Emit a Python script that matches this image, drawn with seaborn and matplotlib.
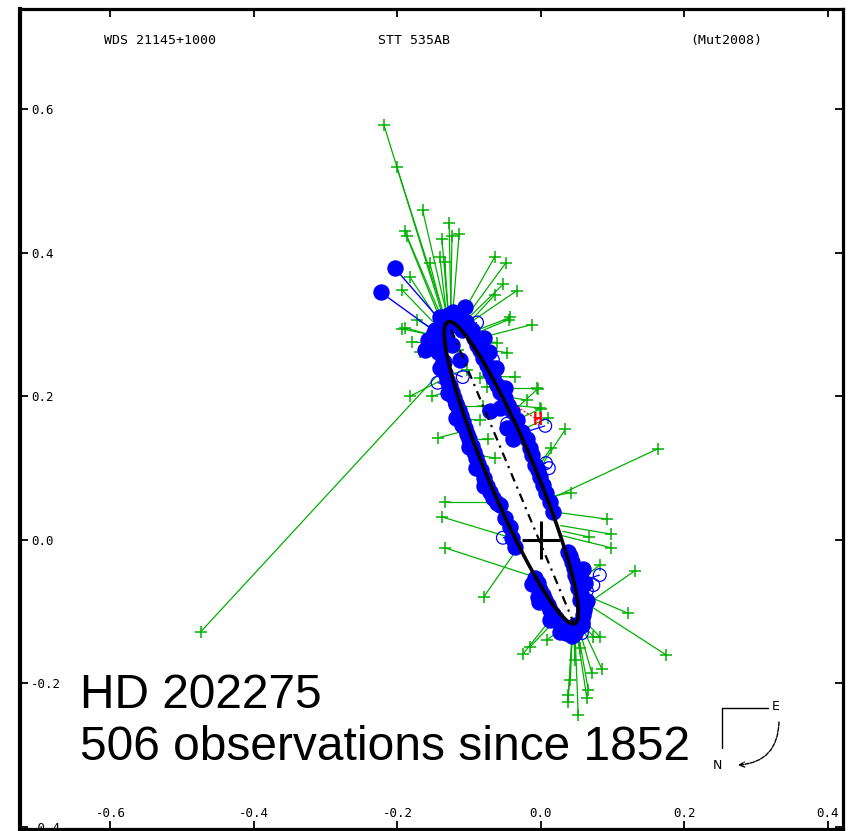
import numpy as np
import matplotlib
matplotlib.use("Agg")
import matplotlib.pyplot as plt
import seaborn as sns

# ---------------- text ----------------
header_left = "WDS 21145+1000"
header_mid = "STT 535AB"
header_right = "(Mut2008)"
star_name = "HD 202275"
obs_summary = "506 observations since 1852"

x_ticks = [-0.6, -0.4, -0.2, 0.0, 0.2, 0.4]
x_tick_labels = ["-0.6", "-0.4", "-0.2", "0.0", "0.2", "0.4"]
y_ticks = [-0.4, -0.2, 0.0, 0.2, 0.4, 0.6]
y_tick_labels = ["-0.4", "-0.2", "0.0", "0.2", "0.4", "0.6"]
x_limits = (-0.726, 0.421)
y_limits = (-0.403, 0.740)

# ---------------- orbit (apparent ellipse) ----------------
orbit_center_x = -0.0413
orbit_center_y = 0.0937
orbit_semi_major = 0.228
orbit_semi_minor = 0.033
orbit_angle_deg = -67.2

node_x = [-0.125, 0.045]
node_y = [0.293, -0.114]
primary_x = [0.0]
primary_y = [0.0]

# ---------------- micrometer observations (green) ----------------
green_obs_x = [-0.219, -0.201, -0.165, -0.128, -0.190, -0.187, -0.138, -0.124, -0.114, -0.064,
               -0.049, -0.141, -0.134, -0.155, -0.183, -0.194, -0.034, -0.053, -0.064, -0.045,
               -0.013, -0.173, -0.190, -0.043,
               -0.047, -0.006, -0.001, -0.036, -0.020, -0.061, -0.004, 0.010, 0.000, -0.116,
               -0.103, -0.085, -0.075, -0.081, -0.085, -0.074, -0.064,
               -0.193, -0.179, -0.169, -0.152, -0.183, -0.474, -0.144, -0.134, -0.138, -0.134,
               -0.080,
               -0.025, -0.015, 0.008, 0.038, 0.038, 0.052, 0.064, 0.066, 0.041, 0.071,
               0.085, 0.082, 0.073, 0.047, 0.054,
               0.174, 0.121, 0.131, 0.082, 0.092, 0.098, 0.098, 0.067, 0.042, 0.163,
               0.034, 0.014]
green_obs_y = [0.579, 0.520, 0.460, 0.442, 0.430, 0.424, 0.420, 0.423, 0.426, 0.395,
               0.386, 0.395, 0.388, 0.386, 0.367, 0.349, 0.347, 0.356, 0.342, 0.307,
               0.300, 0.307, 0.296, 0.310,
               0.261, 0.212, 0.184, 0.227, 0.195, 0.275, 0.211, 0.170, 0.183, 0.265,
               0.237, 0.226, 0.213, 0.186, 0.167, 0.140, 0.114,
               0.294, 0.276, 0.262, 0.200, 0.200, -0.128, 0.142, 0.053, 0.032, -0.011,
               -0.080,
               -0.159, -0.149, -0.140, -0.216, -0.226, -0.244, -0.220, -0.209, -0.195, -0.186,
               -0.180, -0.135, -0.135, -0.167, -0.151,
               -0.160, -0.102, -0.043, -0.035, 0.029, 0.008, -0.011, 0.004, 0.066, 0.127,
               0.154, 0.128]
green_fit_x = [-0.133, -0.130, -0.128, -0.125, -0.134, -0.132, -0.128, -0.126, -0.124, -0.118,
               -0.115, -0.130, -0.128, -0.132, -0.134, -0.135, -0.112, -0.115, -0.110, -0.100,
               -0.095, -0.135, -0.134, -0.103,
               -0.088, -0.060, -0.045, -0.068, -0.052, -0.095, -0.040, -0.030, -0.036, -0.131,
               -0.121, -0.072, -0.062, -0.109, -0.104, -0.094, -0.086,
               -0.135, -0.134, -0.132, -0.119, -0.124, -0.128, -0.099, -0.063, -0.042, -0.011,
               -0.034,
               0.018, 0.022, 0.035, 0.045, 0.044, 0.047, 0.048, 0.049, 0.044, 0.050,
               0.051, 0.052, 0.051, 0.046, 0.048,
               0.050, 0.050, 0.052, 0.047, 0.025, 0.027, 0.029, 0.030, 0.012, 0.015,
               -0.004, -0.006]
green_fit_y = [0.300, 0.298, 0.300, 0.302, 0.292, 0.295, 0.300, 0.300, 0.302, 0.300,
               0.296, 0.300, 0.300, 0.298, 0.292, 0.288, 0.294, 0.296, 0.292, 0.284,
               0.279, 0.286, 0.280, 0.287,
               0.267, 0.212, 0.188, 0.228, 0.200, 0.279, 0.178, 0.152, 0.166, 0.278,
               0.232, 0.234, 0.214, 0.186, 0.168, 0.140, 0.118,
               0.282, 0.272, 0.262, 0.210, 0.230, 0.247, 0.154, 0.053, 0.003, -0.051,
               -0.014,
               -0.105, -0.110, -0.119, -0.118, -0.118, -0.117, -0.116, -0.114, -0.118, -0.112,
               -0.108, -0.104, -0.108, -0.118, -0.116,
               -0.080, -0.072, -0.098, -0.062, 0.038, 0.020, 0.006, 0.012, 0.060, 0.058,
               0.096, 0.098]

# ---------------- speckle observations (blue filled) ----------------
blue_x = [-0.141, -0.130, -0.116, -0.105, -0.096, -0.148, -0.152, -0.144, -0.135, -0.133,
          -0.127, -0.121, -0.114, -0.109, -0.103, -0.096, -0.091, -0.084, -0.075, -0.067,
          -0.061, -0.043, -0.036, -0.008, -0.001, 0.006, 0.013, 0.021, 0.029, 0.041,
          0.052, 0.059, 0.054, 0.052, 0.047, 0.043, 0.038, 0.017, 0.007, -0.001,
          -0.008, -0.015, -0.027, -0.039, -0.047, -0.041, -0.057, -0.071, -0.050, -0.061,
          -0.071, -0.081, -0.089, -0.124, -0.113, -0.106, 0.027, 0.043,
          -0.137, -0.122, -0.112, -0.150, -0.140, 0.035, 0.048, 0.057, 0.060, 0.015,
          -0.004, -0.140, -0.130, -0.118,
          -0.146, -0.139, -0.131, -0.124, -0.119, -0.112, -0.106, -0.100, -0.093, -0.088,
          -0.080, -0.071,
          -0.093, -0.085, -0.075, -0.067, -0.057, -0.046, -0.033,
          -0.124, -0.110, -0.134, -0.158, -0.162,
          -0.004, 0.003, 0.010, 0.017, 0.025, 0.035, 0.047, 0.057, 0.060, 0.056,
          0.050, 0.046, 0.040,
          -0.004, 0.003, 0.013, -0.020, -0.013,
          -0.057, -0.050, -0.040,
          -0.137, -0.128, -0.118, -0.110, -0.100, -0.090, -0.080,
          -0.080, -0.072, -0.062, -0.050,
          -0.012, -0.002, 0.012, 0.062, 0.064, 0.058]
blue_y = [0.310, 0.314, 0.310, 0.304, 0.293, 0.293, 0.276, 0.262, 0.248, 0.232,
          0.215, 0.198, 0.181, 0.165, 0.148, 0.131, 0.114, 0.098, 0.075, 0.059,
          0.052, 0.018, -0.010, -0.053, -0.070, -0.084, -0.098, -0.109, -0.120, -0.126,
          -0.123, -0.105, -0.084, -0.067, -0.049, -0.031, -0.017, 0.039, 0.066, 0.087,
          0.105, 0.128, 0.151, 0.140, 0.156, 0.179, 0.184, 0.179, 0.198, 0.216,
          0.234, 0.254, 0.272, 0.272, 0.251, 0.324, -0.128, -0.134,
          0.300, 0.318, 0.296, 0.285, 0.270, -0.130, -0.118, -0.115, -0.095, -0.110,
          -0.080, 0.240, 0.205, 0.170,
          0.286, 0.269, 0.223, 0.206, 0.190, 0.173, 0.156, 0.140, 0.123, 0.106,
          0.086, 0.067,
          0.282, 0.264, 0.244, 0.226, 0.206, 0.188, 0.167,
          0.300, 0.293, 0.286, 0.279, 0.265,
          -0.060, -0.077, -0.091, -0.103, -0.114, -0.126, -0.130, -0.119, -0.098, -0.075,
          -0.056, -0.039, -0.022,
          0.098, 0.077, 0.053, 0.140, 0.119,
          0.049, 0.031, 0.003,
          0.250, 0.215, 0.190, 0.160, 0.130, 0.100, 0.075,
          0.282, 0.262, 0.240, 0.212,
          -0.062, -0.087, -0.112, -0.060, -0.085, -0.040]

blue_out_x = [-0.204, -0.223]
blue_out_y = [0.379, 0.345]
blue_out_fit_x = [-0.135, -0.140]
blue_out_fit_y = [0.300, 0.285]

# ---------------- other interferometric (blue open) ----------------
open_x = [-0.144, -0.109, -0.089, -0.067, -0.047, 0.006, 0.011, 0.007, -0.053, 0.082,
          0.073, 0.064, 0.056, 0.057]
open_y = [0.219, 0.227, 0.303, 0.251, 0.162, 0.159, 0.100, 0.107, 0.003, -0.049,
          -0.063, -0.071, -0.080, -0.130]
open_fit_x = [-0.117, -0.121, -0.110, -0.083, -0.036, -0.023, -0.008, -0.008, -0.036, 0.046,
              0.048, 0.049, 0.050, 0.048]
open_fit_y = [0.215, 0.232, 0.296, 0.252, 0.165, 0.150, 0.105, 0.105, 0.005, -0.060,
              -0.070, -0.078, -0.085, -0.116]

# ---------------- Hipparcos ----------------
hip_x = [-0.004]
hip_y = [0.167]
hip_fit_x = [-0.034]
hip_fit_y = [0.186]

# ---------------- style ----------------
GREEN = "#00b000"
BLUE = "#0000ff"
RED = "#ff0000"
MONO = ["DejaVu Sans Mono"]

sns.set_theme(style="white")
plt.rcParams["font.family"] = ["DejaVu Sans"]
plt.rcParams["text.color"] = "black"
plt.rcParams["xtick.color"] = "black"
plt.rcParams["ytick.color"] = "black"
plt.rcParams["axes.edgecolor"] = "black"

fig = plt.figure(figsize=(8.48, 8.31), dpi=100)
ax = fig.add_axes([20 / 848, 2 / 831, 823 / 848, 820 / 831])
ax.set_xlim(*x_limits)
ax.set_ylim(*y_limits)


def oc_lines(ox, oy, fx, fy, color, lw, ls="-", z=2):
    for a, b, c, d in zip(ox, oy, fx, fy):
        ax.plot([a, c], [b, d], color=color, lw=lw, ls=ls, zorder=z, solid_capstyle="butt")


# green O-C lines and points
oc_lines(green_obs_x, green_obs_y, green_fit_x, green_fit_y, GREEN, 0.9, z=2)
sns.scatterplot(x=green_obs_x, y=green_obs_y, marker="+", s=70, color=GREEN,
                linewidth=1.1, ax=ax, zorder=3, legend=False)

# blue filled
oc_lines(blue_out_x, blue_out_y, blue_out_fit_x, blue_out_fit_y, BLUE, 1.0, z=4)
sns.scatterplot(x=blue_x + blue_out_x, y=blue_y + blue_out_y, marker="o", s=140,
                color=BLUE, edgecolor=BLUE, linewidth=0, ax=ax, zorder=5, legend=False)

# blue open
oc_lines(open_x, open_y, open_fit_x, open_fit_y, BLUE, 0.9, z=5)
sns.scatterplot(x=open_x, y=open_y, marker="o", s=85, facecolors="none",
                edgecolor=BLUE, linewidth=0.9, ax=ax, zorder=6, legend=False)

# Hipparcos
oc_lines(hip_x, hip_y, hip_fit_x, hip_fit_y, RED, 0.9, ls=(0, (1.5, 1.5)), z=6)
for hx, hy in zip(hip_x, hip_y):
    ax.text(hx, hy, "H", color=RED, fontsize=12, fontweight="bold", ha="center",
            va="center", family=MONO, zorder=7)

# orbit
t = np.linspace(0, 2 * np.pi, 400)
ang = np.deg2rad(orbit_angle_deg)
ex = (orbit_center_x + orbit_semi_major * np.cos(t) * np.cos(ang)
      - orbit_semi_minor * np.sin(t) * np.sin(ang))
ey = (orbit_center_y + orbit_semi_major * np.cos(t) * np.sin(ang)
      + orbit_semi_minor * np.sin(t) * np.cos(ang))
sns.lineplot(x=ex, y=ey, sort=False, color="black", lw=2.6, ax=ax, zorder=8,
             estimator=None)
ax.plot(node_x, node_y, color="black", lw=1.6, ls=(0, (4, 2.5, 1, 2.5)), zorder=8)
ax.plot(primary_x, primary_y, marker="+", ms=28, mew=2.2, color="black", zorder=9,
        ls="none")

# axes decoration
for side, sp in ax.spines.items():
    sp.set_visible(True)
    sp.set_color("black")
    sp.set_linewidth(2.3)
ax.spines["left"].set_linewidth(3.0)

ax.set_xticks(x_ticks)
ax.set_xticklabels(x_tick_labels, family=MONO, fontsize=9, color="black")
ax.set_yticks(y_ticks)
ax.set_yticklabels(y_tick_labels, family=MONO, fontsize=9, ha="left", color="black")
ax.tick_params(axis="x", direction="in", length=6, width=1.3, top=True, bottom=True,
               pad=-16, colors="black")
ax.tick_params(axis="y", direction="in", length=6, width=1.3, left=True, right=True,
               pad=-8, colors="black")
ax.grid(False)

# header
ax.text(0.1025, 0.962, header_left, transform=ax.transAxes, family=MONO, fontsize=9.5,
        ha="left", va="center", color="black")
ax.text(0.435, 0.962, header_mid, transform=ax.transAxes, family=MONO, fontsize=9.5,
        ha="left", va="center", color="black")
ax.text(0.814, 0.962, header_right, transform=ax.transAxes, family=MONO, fontsize=9.5,
        ha="left", va="center", color="black")

# big caption
ax.text(0.0729, 0.1476, star_name, transform=ax.transAxes, family=["Liberation Sans"],
        fontsize=34.5, ha="left", va="baseline", zorder=10, color="black")
ax.text(0.0729, 0.0841, obs_summary, transform=ax.transAxes, family=["Liberation Sans"],
        fontsize=34.5, ha="left", va="baseline", zorder=10, color="black")

# compass
ax.plot([0.853, 0.909], [0.1476, 0.1476], transform=ax.transAxes, color="black", lw=1.0)
ax.plot([0.853, 0.853], [0.1476, 0.0988], transform=ax.transAxes, color="black", lw=1.0)
ax.text(0.9186, 0.1488, "E", transform=ax.transAxes, family=["DejaVu Sans"], fontsize=9,
        ha="center", va="center", color="black")
ax.text(0.848, 0.077, "N", transform=ax.transAxes, family=["DejaVu Sans"], fontsize=9,
        ha="center", va="center", color="black")
ax.annotate("", xy=(0.8724, 0.078), xytext=(0.9222, 0.1305), xycoords="axes fraction",
            textcoords="axes fraction",
            arrowprops=dict(arrowstyle="->", connectionstyle="arc3,rad=-0.45", lw=1.0,
                            color="black", shrinkA=0, shrinkB=0, mutation_scale=9,
                            linestyle=(0, (3, 1))))

fig.savefig("out.png", dpi=100)
